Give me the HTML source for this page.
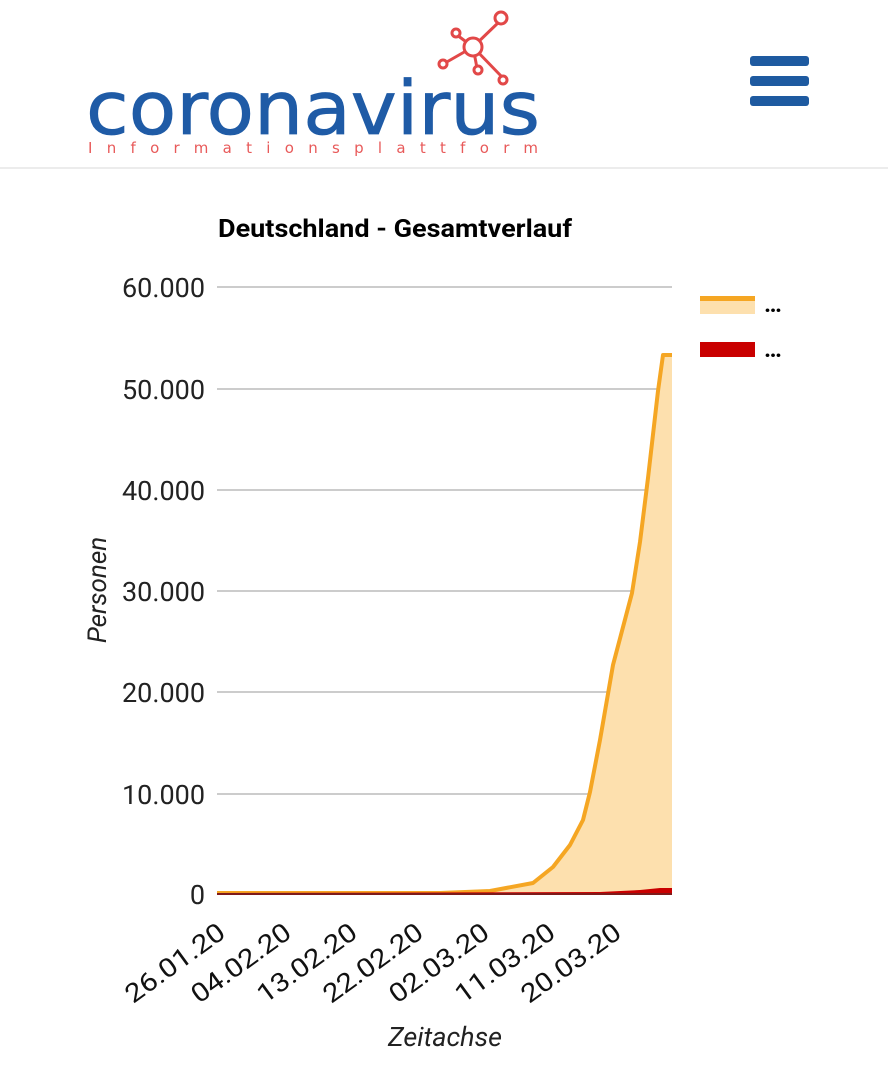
<!DOCTYPE html>
<html><head><meta charset="utf-8"><style>
html,body{margin:0;padding:0;background:#fff;}
body{width:888px;height:1077px;overflow:hidden;position:relative;font-family:"Roboto","Liberation Sans",sans-serif;}
</style></head><body>
<svg width="888" height="1077" viewBox="0 0 888 1077" xmlns="http://www.w3.org/2000/svg" style="position:absolute;left:0;top:0">
<!-- header -->
<text x="86" y="134" font-family="DejaVu Sans, Liberation Sans, sans-serif" font-size="74" fill="#1f5ba6" stroke="#1f5ba6" stroke-width="0.8" textLength="454" lengthAdjust="spacingAndGlyphs">coronavirus</text>
<text x="88" y="153" font-family="DejaVu Sans, Liberation Sans, sans-serif" font-size="15" fill="#e85a5a" textLength="450" lengthAdjust="spacing">Informationsplattform</text>
<g stroke="#e24848" stroke-width="3" fill="none">
<line x1="473" y1="47" x2="501" y2="20"/><line x1="473" y1="47" x2="457" y2="35"/><line x1="473" y1="47" x2="445" y2="63"/><line x1="473" y1="47" x2="503" y2="78"/><line x1="473" y1="47" x2="477" y2="68"/>
<circle cx="473" cy="47" r="9" fill="#fff"/><circle cx="501" cy="18" r="6" fill="#fff"/><circle cx="456" cy="33" r="4" fill="#fff"/><circle cx="443" cy="64" r="4" fill="#fff"/><circle cx="478" cy="70" r="4" fill="#fff"/><circle cx="503" cy="80" r="4" fill="#fff"/>
</g>
<rect x="750" y="56" width="59" height="10" rx="3" fill="#1e5aa0"/>
<rect x="750" y="76" width="59" height="10" rx="3" fill="#1e5aa0"/>
<rect x="750" y="96" width="59" height="10" rx="3" fill="#1e5aa0"/>
<rect x="0" y="167" width="888" height="2" fill="#ececec"/>
<!-- title -->
<text x="395" y="237" text-anchor="middle" font-size="25" font-weight="bold" fill="#000" textLength="354" lengthAdjust="spacingAndGlyphs">Deutschland - Gesamtverlauf</text>
<!-- grid -->
<g stroke="#cccccc" stroke-width="2">
<line x1="217" y1="287" x2="672" y2="287"/><line x1="217" y1="389" x2="672" y2="389"/><line x1="217" y1="490" x2="672" y2="490"/><line x1="217" y1="591" x2="672" y2="591"/><line x1="217" y1="692" x2="672" y2="692"/><line x1="217" y1="794" x2="672" y2="794"/>
</g>
<g font-size="27" fill="#222" text-anchor="end">
<text x="205" y="297">60.000</text><text x="205" y="399">50.000</text><text x="205" y="500">40.000</text><text x="205" y="601">30.000</text><text x="205" y="702">20.000</text><text x="205" y="804">10.000</text><text x="205" y="904">0</text>
</g>
<!-- area -->
<path d="M217,893 L440,893 L490,891 L533,883 L553,867 L570,845 L583,820 L590,792 L600,740 L613,665 L632,593 L640,542 L648,478 L658,391 L663,355 L672,355 L672,894 L217,894 Z" fill="#fde0ae"/>
<path d="M217,893 L440,893 L490,891 L533,883 L553,867 L570,845 L583,820 L590,792 L600,740 L613,665 L632,593 L640,542 L648,478 L658,391 L663,355 L672,355" fill="none" stroke="#f5a623" stroke-width="4" stroke-linejoin="round"/>
<path d="M217,893 L600,892 L640,890 L660,888 L672,888 L672,895 L217,895 Z" fill="#c90000"/>
<line x1="217" y1="894" x2="672" y2="894" stroke="#333" stroke-width="1"/>
<!-- legend -->
<rect x="700" y="296" width="55" height="18" fill="#fde0ae"/>
<rect x="700" y="296" width="55" height="5" fill="#f5a623"/>
<text x="764" y="312" font-size="24" font-weight="bold" fill="#000">…</text>
<rect x="700" y="342" width="55" height="15" fill="#c90000"/>
<text x="764" y="357" font-size="24" font-weight="bold" fill="#000">…</text>
<!-- y axis title -->
<text transform="translate(106,590) rotate(-90)" text-anchor="middle" font-size="26" font-style="italic" fill="#222">Personen</text>
<!-- x labels -->
<g font-size="26" fill="#111" text-anchor="end">
<text transform="translate(227,936) rotate(-36)" textLength="116" lengthAdjust="spacingAndGlyphs">26.01.20</text>
<text transform="translate(293,936) rotate(-36)" textLength="116" lengthAdjust="spacingAndGlyphs">04.02.20</text>
<text transform="translate(359,936) rotate(-36)" textLength="116" lengthAdjust="spacingAndGlyphs">13.02.20</text>
<text transform="translate(425,936) rotate(-36)" textLength="116" lengthAdjust="spacingAndGlyphs">22.02.20</text>
<text transform="translate(491,936) rotate(-36)" textLength="116" lengthAdjust="spacingAndGlyphs">02.03.20</text>
<text transform="translate(557,936) rotate(-36)" textLength="116" lengthAdjust="spacingAndGlyphs">11.03.20</text>
<text transform="translate(623,936) rotate(-36)" textLength="116" lengthAdjust="spacingAndGlyphs">20.03.20</text>
</g>
<text x="445" y="1046" text-anchor="middle" font-size="27" font-style="italic" fill="#222">Zeitachse</text>
</svg>
</body></html>
